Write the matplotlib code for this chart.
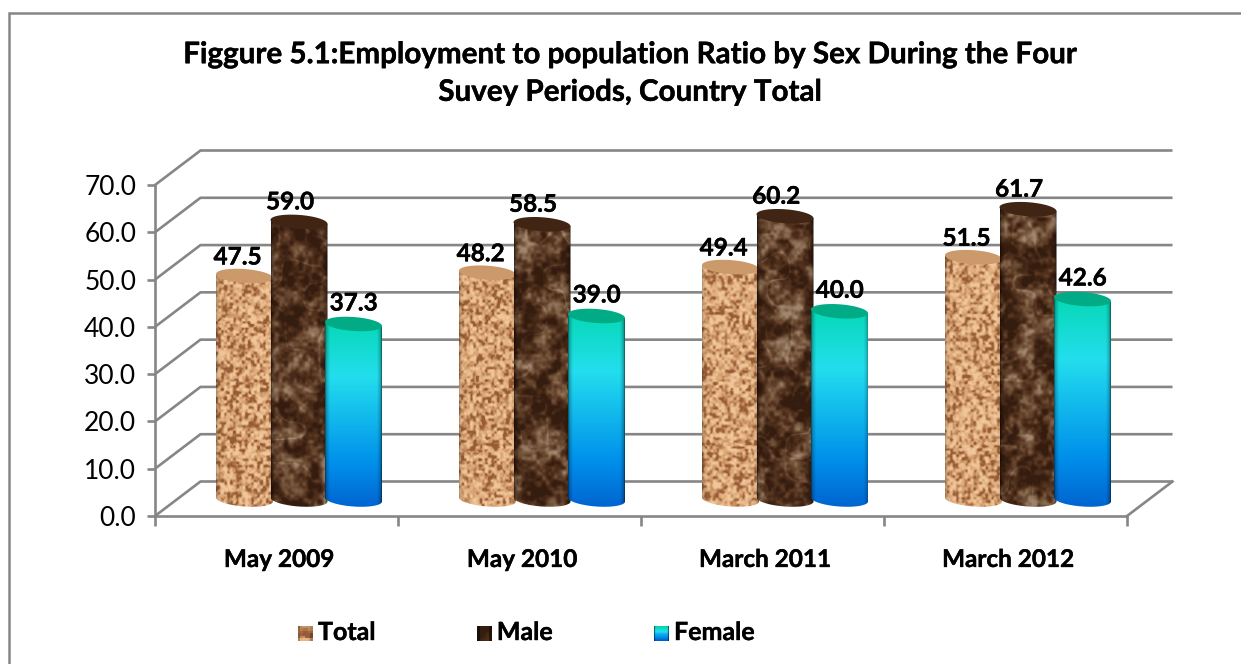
import numpy as np
import matplotlib
matplotlib.use("Agg")
import matplotlib.pyplot as plt
import matplotlib.patheffects as pe
from matplotlib.legend_handler import HandlerBase
from matplotlib.image import BboxImage
from matplotlib.transforms import Bbox, TransformedBbox, ScaledTranslation
from matplotlib.patches import Polygon, PathPatch, Rectangle
from matplotlib.path import Path

# ---------- data ----------
periods = ["May 2009", "May 2010", "March 2011", "March 2012"]
series_names = ["Total", "Male", "Female"]
total_vals = [47.5, 48.2, 49.4, 51.5]
male_vals = [59.0, 58.5, 60.2, 61.7]
female_vals = [37.3, 39.0, 40.0, 42.6]
y_ticks = [0, 10, 20, 30, 40, 50, 60, 70]
title_text = ("Figgure 5.1:Employment to population Ratio by Sex During the Four\n"
              "Suvey Periods, Country Total")

# ---------- layout (pixels of the 1241x664 canvas) ----------
W, H = 1241, 664
L, R, B, T = 155, 1127, 516, 185
GRID = "#868686"
plt.rcParams["font.family"] = ["Lato", "DejaVu Sans"]
HEAVY = [pe.withStroke(linewidth=0.3, foreground="black")]
fig = plt.figure(figsize=(W / 100, H / 100), dpi=100, facecolor="white")
ax = fig.add_axes([L / W, 1 - B / H, (R - L) / W, (B - T) / H])
ax.set_xlim(0, len(periods))
ax.set_ylim(0, 70)
ax.patch.set_visible(False)
px_x = len(periods) / (R - L)
px_y = 70 / (B - T)
DX, DY = 45.5 * px_x, 34.5 * px_y      # depth of the 3-D box in data units


# ---------- procedural textures ----------
def hash_grid(h, w, seed):
    yy, xx = np.mgrid[0:h, 0:w]
    v = np.sin(xx * 12.9898 + yy * 78.233 + seed * 37.719) * 43758.5453
    return v - np.floor(v)


def value_noise(h, w, cell, seed):
    gh, gw = h // cell + 2, w // cell + 2
    g = hash_grid(gh, gw, seed)
    ys = np.arange(h) / cell
    xs = np.arange(w) / cell
    y0 = ys.astype(int)
    x0 = xs.astype(int)
    ty = (ys - y0)[:, None]
    tx = (xs - x0)[None, :]
    ty = ty * ty * (3 - 2 * ty)
    tx = tx * tx * (3 - 2 * tx)
    a = g[np.ix_(y0, x0)]
    b = g[np.ix_(y0, x0 + 1)]
    c = g[np.ix_(y0 + 1, x0)]
    d = g[np.ix_(y0 + 1, x0 + 1)]
    return (a * (1 - tx) + b * tx) * (1 - ty) + (c * (1 - tx) + d * tx) * ty


def ramp(v, stops):
    xs = [s[0] for s in stops]
    out = np.zeros(v.shape + (3,))
    for k in range(3):
        out[..., k] = np.interp(v, xs, [s[1][k] for s in stops])
    return out / 255


def edge_shade(w, lo=0.62, gain=1.8):
    t = np.linspace(-1, 1, w)
    return (lo + (1 - lo) * np.clip(np.sqrt(np.clip(1 - t ** 2, 0, 1)) * gain, 0, 1))[None, :, None]


def cork_tex(h, w, seed=1):
    n = (0.6 * value_noise(h, w, 3, seed) + 0.25 * value_noise(h, w, 2, seed + 1)
         + 0.15 * value_noise(h, w, 7, seed + 2))
    img = ramp(n, [(0.28, (150, 92, 55)), (0.42, (200, 145, 98)),
                   (0.55, (222, 172, 124)), (0.72, (240, 198, 155))])
    return np.clip(img * edge_shade(w, 0.78), 0, 1)


def marble_tex(h, w, seed=11):
    n = (0.5 * value_noise(h, w, 14, seed) + 0.3 * value_noise(h, w, 5, seed + 1)
         + 0.2 * value_noise(h, w, 3, seed + 2))
    vein = 1 - np.abs(value_noise(h, w, 22, seed + 3) - 0.5) * 22
    n = n + 0.14 * np.clip(vein, 0, 1)
    img = ramp(n, [(0.32, (52, 28, 15)), (0.5, (82, 50, 30)),
                   (0.64, (112, 80, 55)), (0.85, (160, 135, 110))])
    return np.clip(img * edge_shade(w, 0.5), 0, 1)


def ocean_tex(h, w):
    v = np.linspace(0, 1, h)[:, None] * np.ones((h, w))
    img = ramp(v, [(0.0, (0, 215, 170)), (0.33, (35, 222, 238)),
                   (0.75, (0, 145, 235)), (1.0, (0, 95, 205))])
    return np.clip(img * edge_shade(w, 0.5), 0, 1)


def tex_for(name, h, w, seed):
    if name == "Total":
        return cork_tex(h, w, seed)
    if name == "Male":
        return marble_tex(h, w, seed)
    return ocean_tex(h, w)


CAPS = {"Total": (0.80, 0.60, 0.42), "Male": (0.25, 0.14, 0.08), "Female": (0.0, 0.67, 0.52)}

# ---------- 3-D box: walls, floor, gridlines ----------
for v in y_ticks:
    ax.plot([0, DX, len(periods) + DX], [v, v + DY, v + DY], color=GRID, lw=1.9,
            clip_on=False, solid_capstyle="butt", solid_joinstyle="miter", zorder=1)
ax.plot([len(periods), len(periods) + DX], [0, DY], color=GRID, lw=1.9, clip_on=False, zorder=1)

# ---------- axes ----------
for s in ("top", "right"):
    ax.spines[s].set_visible(False)
for s in ("left", "bottom"):
    ax.spines[s].set_color(GRID)
    ax.spines[s].set_linewidth(1.9)
ax.set_yticks(y_ticks)
ax.set_yticklabels([f"{v:.1f}" for v in y_ticks], fontsize=19, color="black")
ax.tick_params(axis="y", length=5.5, width=1.9, color=GRID, pad=8.0)
ax.set_xticks(range(len(periods) + 1))
ax.set_xticklabels([])
ax.tick_params(axis="x", which="major", length=7, width=1.9, color=GRID)
ax.set_xticks(np.arange(len(periods)) + 0.5, minor=True)
ax.set_xticklabels(periods, minor=True, fontsize=17.5, fontweight="bold")
ax.tick_params(axis="x", which="minor", length=0, pad=23)
shift = ScaledTranslation(2.5 / 100, 0, fig.dpi_scale_trans)
for lab in ax.get_xticklabels(minor=True):
    lab.set_transform(lab.get_transform() + shift)
    lab.set_path_effects(HEAVY)

# ---------- cylinders ----------
BAR_W = 57 * px_x
STEP = 54.5 * px_x
CAP_H = 14 * px_y
TILT = 4 * px_y
BAR_SCALE = 0.995
DEPTH_X, DEPTH_Y = 22.5 * px_x, 16.5 * px_y
LABEL_DX = {"Total": -7, "Male": -9, "Female": 0}
LABEL_DY = {"Total": 19, "Male": 20, "Female": 21}

for i in range(len(periods)):
    for j, (name, vals) in enumerate(zip(series_names, [total_vals, male_vals, female_vals])):
        v = vals[i]
        cx = i + 0.5 + DEPTH_X + (j - 1) * STEP
        x0, x1 = cx - BAR_W / 2, cx + BAR_W / 2
        base, top = DEPTH_Y, DEPTH_Y + v * BAR_SCALE
        z = 3 + j + i * 4
        skew = lambda x: -TILT * (x - cx) / BAR_W
        t = np.linspace(0, np.pi, 40)
        xs_b = cx - BAR_W / 2 * np.cos(t)
        ys_b = base - CAP_H / 2 * np.sin(t) + skew(xs_b)
        xs_t = cx + BAR_W / 2 * np.cos(t)
        ys_t = top + skew(xs_t)
        verts = np.column_stack([np.r_[xs_b, xs_t], np.r_[ys_b, ys_t]])
        body = PathPatch(Path(np.vstack([verts, verts[0]]), closed=True), transform=ax.transData,
                         fc="none", ec="none")
        ax.add_patch(body)
        h_px = int(v / px_y) + 24
        tex = tex_for(name, h_px, 58, seed=3 + 5 * i + 17 * j)
        im = ax.imshow(tex, extent=[x0, x1, base - CAP_H, top + CAP_H], origin="upper",
                       aspect="auto", zorder=z, interpolation="bilinear")
        im.set_clip_path(body)
        # top face
        a = np.linspace(0, 2 * np.pi, 80)
        cap_x = cx + BAR_W / 2 * np.cos(a)
        cap_y = top + CAP_H / 2 * np.sin(a) + skew(cap_x)
        ax.add_patch(Polygon(np.column_stack([cap_x, cap_y]), closed=True, fc=CAPS[name],
                             ec="none", zorder=z + 0.1))
        ax.annotate(f"{v:.1f}", (cx, top), xytext=(LABEL_DX[name] * 0.72, LABEL_DY[name] * 0.72),
                    textcoords="offset points", ha="center", va="center", fontsize=17.5,
                    fontweight="bold", color="black", zorder=50, annotation_clip=False,
                    path_effects=HEAVY)

ax.set_xlim(0, len(periods))
ax.set_ylim(0, 70)


# ---------- legend ----------
class TexHandler(HandlerBase):
    def __init__(self, name):
        super().__init__()
        self.name = name

    def create_artists(self, legend, orig, xd, yd, w, h, fontsize, trans):
        bb = TransformedBbox(Bbox([[-xd, -yd - 1], [-xd + w, -yd - 1 + w]]), trans)
        img = BboxImage(bb, interpolation="nearest")
        if self.name == "Total":
            data = cork_tex(6, 6, 4)
        elif self.name == "Male":
            data = marble_tex(5, 5, 21)
        else:
            data = ocean_tex(16, 16)
        img.set_data(data)
        return [img]


handles = [Rectangle((0, 0), 1, 1, label=n) for n in series_names]
leg = fig.legend(handles=handles, labels=series_names, loc="lower left",
                 bbox_to_anchor=(298 / W, 1 - 644 / H), ncol=3, frameon=False,
                 prop={"size": 18, "weight": "bold"}, handlelength=0.6, handleheight=0.7,
                 handletextpad=0.2, columnspacing=4.05, borderpad=0, borderaxespad=0,
                 handler_map={h: TexHandler(n) for h, n in zip(handles, series_names)})
for txt in leg.get_texts():
    txt.set_path_effects(HEAVY)

# ---------- title ----------
fig.text(630 / W, 1 - 73 / H, title_text, ha="center", va="center", fontsize=21.3,
         fontweight="bold", linespacing=1.42, path_effects=HEAVY)

# ---------- chart frame ----------
fig.add_artist(plt.Line2D([8.7 / W, 8.7 / W, 1241 / W], [0, 1 - 13 / H, 1 - 13 / H],
                          transform=fig.transFigure, color=GRID, lw=1.8,
                          solid_joinstyle="miter"))

fig.savefig("out.png", dpi=100, facecolor="white")
